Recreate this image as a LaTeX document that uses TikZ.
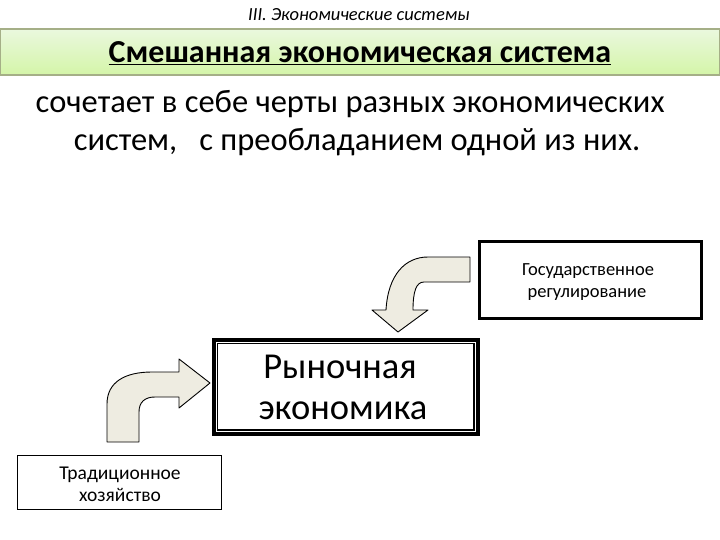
\documentclass[tikz,border=0pt]{standalone}
\usepackage{fontspec}
\setmainfont{Carlito}
\definecolor{barTop}{RGB}{234,248,222}
\definecolor{barBot}{RGB}{212,245,168}
\definecolor{barLine}{RGB}{165,175,135}
\definecolor{arrowFill}{RGB}{238,236,225}
\tikzset{
  txt/.style={inner sep=0pt, anchor=base},
  boxthin/.style={draw=black, line width=1.8pt, fill=white},
  bentarrow/.style={draw=black, line width=0.9pt, fill=arrowFill, line join=round},
}
\begin{document}
\begin{tikzpicture}[x=1pt,y=-1pt]
\useasboundingbox (0,0) rectangle (720,540);
% header
\node[txt, font=\itshape\fontsize{18.5}{20}\selectfont] (hdr) at (359,21) {III. Экономические системы};
% title bar
\shade[top color=barTop, bottom color=barBot] (0,29) rectangle (720,75);
\draw[barLine, line width=1.2pt] (0.6,29) rectangle (719.4,75);
\node[txt, font=\bfseries\fontsize{32}{34}\selectfont] (title) at (360,63) {\underline{Смешанная экономическая система}};
% body text
\node[txt, font=\fontsize{32.5}{36}\selectfont] (l1) at (350,113) {сочетает в себе черты разных экономических};
\node[txt, font=\fontsize{32.5}{36}\selectfont] (l2) at (357,151) {систем,\ \ \ с преобладанием одной из них.};
% boxes
\draw[black, line width=3pt, fill=white] (479.5,241.5) rectangle (701.5,318.5);
\node[inner sep=0pt, minimum width=222pt, minimum height=77pt] (gov) at (590.5,280) {};
\node[txt, font=\fontsize{18.5}{20}\selectfont] (gov1) at (588,275) {Государственное};
\node[txt, font=\fontsize{18.5}{20}\selectfont] (gov2) at (587,297) {регулирование};

\draw[black, line width=4pt, fill=white] (214,340) rectangle (478,434);
\draw[black, line width=1.3pt] (217.5,343.5) rectangle (474,430);
\node[inner sep=0pt, minimum width=264pt, minimum height=94pt] (mkt) at (346,387) {};
\node[txt, font=\fontsize{36.5}{40}\selectfont] (mkt1) at (340,378) {Рыночная};
\node[txt, font=\fontsize{36.5}{40}\selectfont] (mkt2) at (343,419) {экономика};

\draw[boxthin] (17.5,455.5) rectangle (221.5,509.5);
\node[inner sep=0pt, minimum width=204pt, minimum height=54pt] (trad) at (119.5,482.5) {};
\node[txt, font=\fontsize{19.5}{21}\selectfont] (trad1) at (120,479) {Традиционное};
\node[txt, font=\fontsize{19.5}{21}\selectfont] (trad2) at (120,501) {хозяйство};

% bent arrows
\draw[bentarrow] (107,442) -- (107,404) .. controls (107,382) and (125,372) .. (152,372)
  -- (179,372) -- (179,359) -- (210,383) -- (179,408) -- (179,397) -- (155,397)
  .. controls (145,397) and (139,402) .. (139,412) -- (139,442) -- cycle;
\draw[bentarrow] (470,257) -- (428,257) .. controls (405,257) and (388,275) .. (386,310)
  -- (372,310) -- (398,332) -- (428,310) -- (413,310)
  .. controls (413,292) and (416,282) .. (424,282) -- (470,282) -- cycle;
\end{tikzpicture}
\end{document}
